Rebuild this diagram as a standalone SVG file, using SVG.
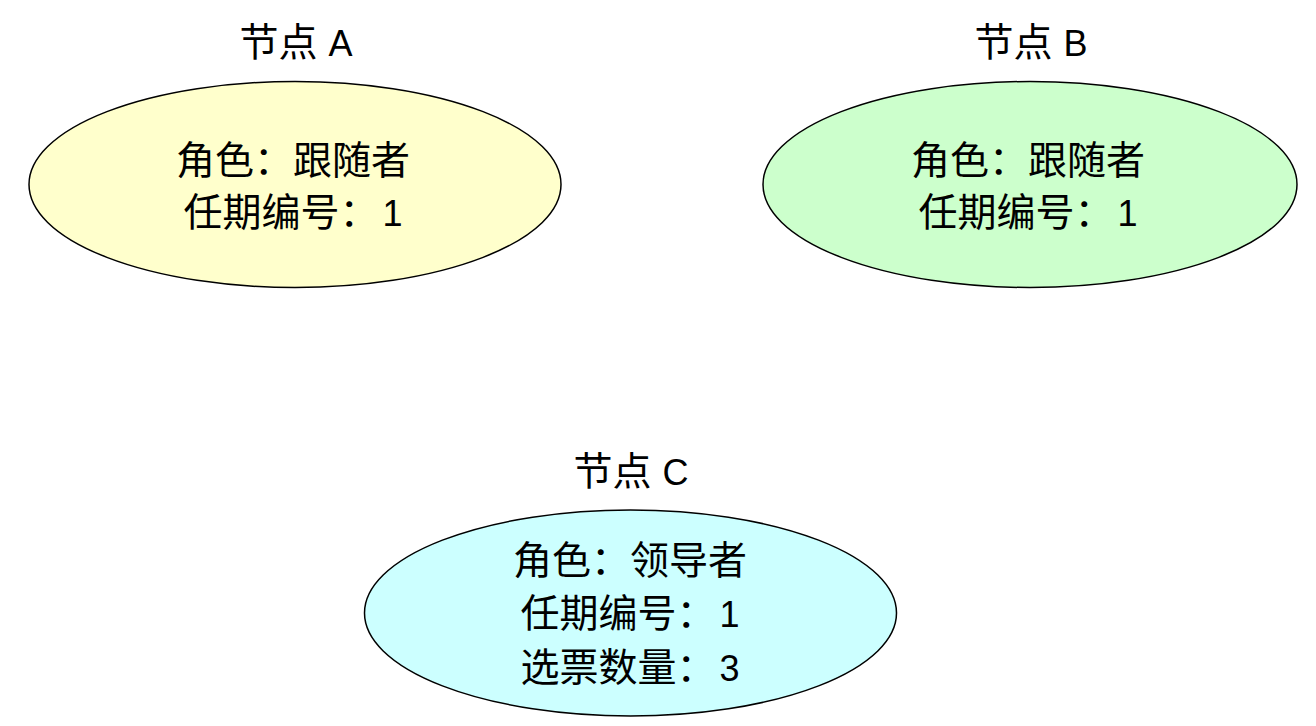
<svg xmlns="http://www.w3.org/2000/svg" width="1316" height="726" viewBox="0 0 1316 726">
<style>
text{font-family:"Liberation Sans","Noto Sans CJK SC",sans-serif;font-size:39px;fill:#000;text-anchor:middle}
.l{font-size:36px}
.node{stroke:#000;stroke-width:1.5}
</style>
<rect width="1316" height="726" fill="#fff"/>
<g id="connectors"></g>
<g id="nodeA">
<text x="296" y="56">节点 <tspan class="l">A</tspan></text>
<ellipse class="node" cx="295" cy="184.5" rx="266" ry="103" fill="#FFFFCC"/>
<text x="293" y="174">角色：跟随者</text>
<text x="293" y="226">任期编号：<tspan class="l" dx="4">1</tspan></text>
</g>
<g id="nodeB">
<text x="1031" y="56">节点 <tspan class="l">B</tspan></text>
<ellipse class="node" cx="1030" cy="184.5" rx="267" ry="103" fill="#CCFFCC"/>
<text x="1028" y="174">角色：跟随者</text>
<text x="1028" y="226">任期编号：<tspan class="l" dx="4">1</tspan></text>
</g>
<g id="nodeC">
<text x="631" y="485">节点 <tspan class="l">C</tspan></text>
<ellipse class="node" cx="630.5" cy="613" rx="266" ry="103" fill="#CCFFFF"/>
<text x="630" y="574">角色：领导者</text>
<text x="630" y="627">任期编号：<tspan class="l" dx="4">1</tspan></text>
<text x="630" y="681">选票数量：<tspan class="l" dx="4">3</tspan></text>
</g>
</svg>
